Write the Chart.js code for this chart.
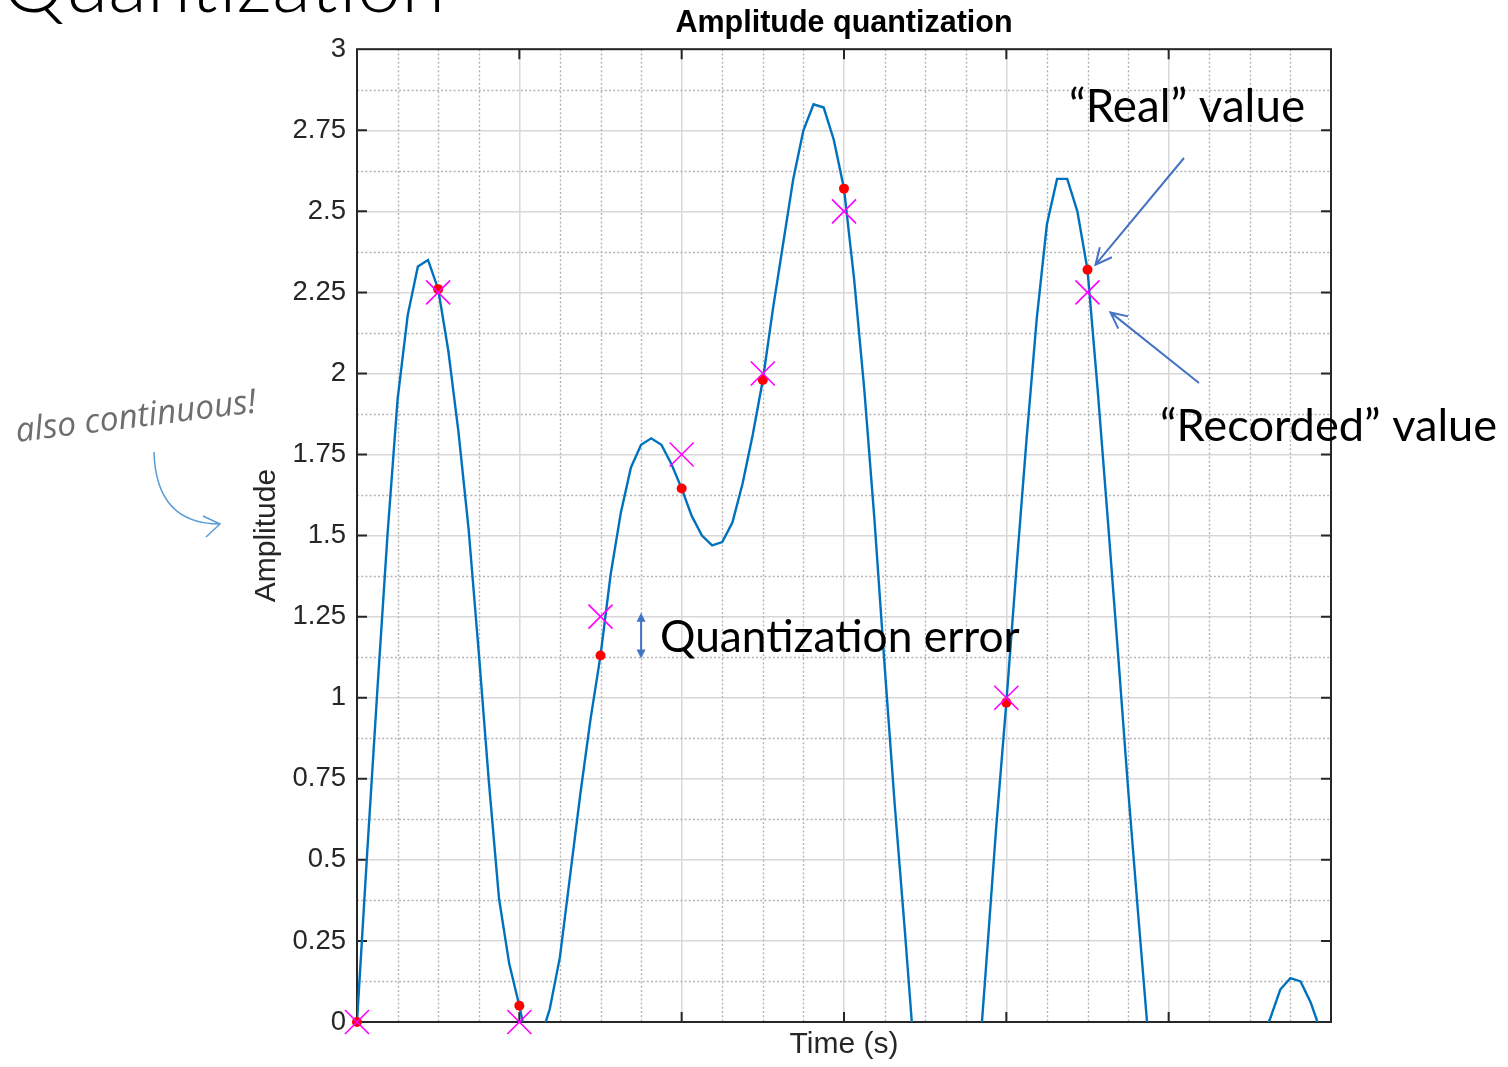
<!DOCTYPE html>
<html>
<head>
<meta charset="utf-8">
<script src="https://cdn.jsdelivr.net/npm/chart.js@4.4.1/dist/chart.umd.min.js"></script>
<style>
  html, body { margin: 0; padding: 0; background: #fff; }
  canvas { display: block; }
</style>
</head>
<body>
<canvas id="chart" width="1508" height="1067"></canvas>
<script>
// sample instants (one every half major division) and their values
const sampleTimes = [0, 1, 2, 3, 4, 5, 6, 7, 8, 9, 10, 11, 12];
const realValues = [0, 2.26, 0.05, 1.13, 1.645, 1.98, 2.57, -0.5, 0.985, 2.32, -0.7, -0.15, -0.2];
const recordedValues = [0, 2.25, 0, 1.25, 1.75, 2.0, 2.5, -0.5, 1.0, 2.25, -0.75, -0.25, -0.25];

// "continuous" signal, 8 points per sample period
const curveStep = 0.125;
const curveValues = [
  0, 0.52, 1.02, 1.5, 1.92, 2.18, 2.33, 2.35,
  2.26, 2.07, 1.82, 1.52, 1.14, 0.74, 0.38, 0.18,
  0.05, -0.1, -0.06, 0.04, 0.2, 0.45, 0.7, 0.93,
  1.13, 1.38, 1.57, 1.71, 1.78, 1.8, 1.78, 1.72,
  1.645, 1.56, 1.5, 1.47, 1.48, 1.54, 1.66, 1.81,
  1.98, 2.2, 2.4, 2.6, 2.75, 2.83, 2.82, 2.72,
  2.57, 2.29, 1.95, 1.55, 1.1, 0.67, 0.28, -0.13,
  -0.5, -0.7, -0.75, -0.65, -0.45, -0.25, 0.17, 0.6,
  0.985, 1.4, 1.8, 2.17, 2.46, 2.6, 2.6, 2.5,
  2.32, 1.95, 1.55, 1.14, 0.72, 0.33, -0.05, -0.4,
  -0.7, -0.9, -1.0, -1.0, -0.9, -0.7, -0.5, -0.3,
  -0.15, -0.05, 0.01, 0.1, 0.135, 0.125, 0.06, -0.03,
  -0.2,
];

const AXIS_FONT = "'Liberation Sans', Arial, sans-serif";
const SLIDE_FONT = "Lato, 'Open Sans', sans-serif";
const ARROW_BLUE = "#4472C4";

function fitFont(ctx, text, width, style, family) {
  ctx.font = `${style} 100px ${family}`;
  const size = (100 * width) / ctx.measureText(text).width;
  return `${style} ${size.toFixed(1)}px ${family}`;
}

function openArrow(ctx, x1, y1, x2, y2, head) {
  const a = Math.atan2(y2 - y1, x2 - x1);
  ctx.beginPath();
  ctx.moveTo(x1, y1);
  ctx.lineTo(x2, y2);
  ctx.moveTo(x2 - head * Math.cos(a - 0.45), y2 - head * Math.sin(a - 0.45));
  ctx.lineTo(x2, y2);
  ctx.lineTo(x2 - head * Math.cos(a + 0.45), y2 - head * Math.sin(a + 0.45));
  ctx.stroke();
}

function filledHead(ctx, x, y, dir) {
  // dir = -1 up, 1 down
  ctx.beginPath();
  ctx.moveTo(x, y);
  ctx.lineTo(x - 4.5, y - dir * 9);
  ctx.lineTo(x + 4.5, y - dir * 9);
  ctx.closePath();
  ctx.fill();
}

// MATLAB-ish box, minor grid and the slide annotations
const matlabAxes = {
  id: "matlabAxes",
  beforeDatasetsDraw(chart) {
    const { ctx, chartArea: a, scales: { x, y } } = chart;
    ctx.save();

    // minor dotted grid
    ctx.strokeStyle = "#b4b4b4";
    ctx.lineWidth = 1.4;
    ctx.setLineDash([2, 2.2]);
    ctx.beginPath();
    for (let t = 0.5; t < 12; t += 0.5) {
      if (t % 2 === 0) continue;
      const px = Math.round(x.getPixelForValue(t)) + 0.5;
      ctx.moveTo(px, a.top);
      ctx.lineTo(px, a.bottom);
    }
    for (let v = 0.125; v < 3; v += 0.25) {
      const py = Math.round(y.getPixelForValue(v)) + 0.5;
      ctx.moveTo(a.left, py);
      ctx.lineTo(a.right, py);
    }
    ctx.stroke();
    ctx.setLineDash([]);

    // box + inward ticks
    ctx.strokeStyle = "#262626";
    ctx.lineWidth = 2;
    ctx.strokeRect(a.left, a.top, a.right - a.left, a.bottom - a.top);
    ctx.beginPath();
    for (let v = 0.25; v < 3; v += 0.25) {
      const py = y.getPixelForValue(v);
      ctx.moveTo(a.left, py);
      ctx.lineTo(a.left + 10, py);
      ctx.moveTo(a.right, py);
      ctx.lineTo(a.right - 10, py);
    }
    for (let t = 2; t < 12; t += 2) {
      const px = x.getPixelForValue(t);
      ctx.moveTo(px, a.bottom);
      ctx.lineTo(px, a.bottom - 10);
      ctx.moveTo(px, a.top);
      ctx.lineTo(px, a.top + 10);
    }
    ctx.stroke();
    ctx.restore();
  },
  afterDraw(chart) {
    const { ctx, scales: { x, y } } = chart;
    ctx.save();
    ctx.fillStyle = "#000";
    ctx.textBaseline = "alphabetic";
    ctx.textAlign = "left";

    // slide title, cut by the top of the picture
    ctx.font = fitFont(ctx, "Quantization", 443, "300", SLIDE_FONT);
    ctx.fillText("Quantization", 2, 12);

    // "also continuous!" note with curved arrow
    ctx.save();
    ctx.translate(17, 442);
    ctx.rotate(-0.124);
    ctx.fillStyle = "#6e6e6e";
    ctx.font = fitFont(ctx, "also continuous!", 242, "italic", "'Open Sans', sans-serif");
    ctx.fillText("also continuous!", 0, 0);
    ctx.restore();

    ctx.strokeStyle = "#5B9BD5";
    ctx.lineWidth = 1.5;
    ctx.beginPath();
    ctx.moveTo(154, 452);
    ctx.quadraticCurveTo(156, 524, 220, 524);
    ctx.stroke();
    ctx.beginPath();
    ctx.moveTo(203, 516);
    ctx.lineTo(220, 524);
    ctx.lineTo(206, 537);
    ctx.stroke();

    // quantization error marker between sample 3 real/recorded values
    const ex = x.getPixelForValue(3.5);
    const eTop = y.getPixelForValue(recordedValues[3]) - 4;
    const eBot = y.getPixelForValue(realValues[3]) + 3;
    ctx.strokeStyle = ARROW_BLUE;
    ctx.fillStyle = ARROW_BLUE;
    ctx.lineWidth = 2;
    ctx.beginPath();
    ctx.moveTo(ex, eTop + 6);
    ctx.lineTo(ex, eBot - 6);
    ctx.stroke();
    filledHead(ctx, ex, eTop, -1);
    filledHead(ctx, ex, eBot, 1);

    ctx.fillStyle = "#000";
    ctx.font = fitFont(ctx, "Quantization error", 360, "normal", SLIDE_FONT);
    ctx.fillText("Quantization error", 660, 652);

    ctx.font = fitFont(ctx, "\u201CReal\u201D value", 236, "normal", SLIDE_FONT);
    ctx.fillText("\u201CReal\u201D value", 1069, 122);

    ctx.font = fitFont(ctx, "\u201CRecorded\u201D value", 337, "normal", SLIDE_FONT);
    ctx.fillText("\u201CRecorded\u201D value", 1160, 441);

    // arrows to sample 9
    const sx = x.getPixelForValue(sampleTimes[9]);
    const ry = y.getPixelForValue(realValues[9]);
    const qy = y.getPixelForValue(recordedValues[9]);
    ctx.strokeStyle = ARROW_BLUE;
    ctx.lineWidth = 2;
    openArrow(ctx, 1184, 158, sx + 8, ry - 5, 18);
    openArrow(ctx, 1199, 383, sx + 23, qy + 20, 18);

    ctx.restore();
  },
};

const gridStyle = { color: "#d8d8d8", lineWidth: 1.5, drawTicks: false };

new Chart(document.getElementById("chart"), {
  type: "line",
  data: {
    datasets: [
      {
        label: "Recorded",
        data: sampleTimes.map((t, i) => ({ x: t, y: recordedValues[i] })),
        showLine: false,
        pointStyle: "crossRot",
        pointRadius: 17,
        pointBorderColor: "#ff00ff",
        pointBorderWidth: 1.6,
        clip: 20,
        order: 1,
      },
      {
        label: "Real",
        data: sampleTimes.map((t, i) => ({ x: t, y: realValues[i] })),
        showLine: false,
        pointStyle: "circle",
        pointRadius: 5,
        pointBackgroundColor: "#ff0000",
        pointBorderColor: "#ff0000",
        pointBorderWidth: 0,
        clip: 20,
        order: 2,
      },
      {
        label: "Signal",
        data: curveValues.map((v, i) => ({ x: i * curveStep, y: v })),
        borderColor: "#0072BD",
        borderWidth: 2.4,
        pointRadius: 0,
        tension: 0,
        order: 3,
      },
    ],
  },
  options: {
    responsive: false,
    animation: false,
    layout: { padding: { left: 249, right: 177, top: 0, bottom: 0 } },
    plugins: {
      legend: { display: false },
      tooltip: { enabled: false },
      title: {
        display: true,
        fullSize: false,
        text: "Amplitude quantization",
        color: "#000",
        font: { family: AXIS_FONT, size: 30.5, weight: "bold" },
        padding: { top: 5, bottom: 7.6 },
      },
    },
    scales: {
      x: {
        type: "linear",
        min: 0,
        max: 12,
        ticks: { stepSize: 2, display: false },
        grid: gridStyle,
        border: { display: false },
        title: {
          display: true,
          text: "Time (s)",
          color: "#262626",
          font: { family: AXIS_FONT, size: 30 },
          padding: { top: 0, bottom: 4 },
        },
        afterFit: (s) => { s.height = 45; },
      },
      y: {
        min: 0,
        max: 3,
        ticks: {
          stepSize: 0.25,
          padding: 11,
          color: "#262626",
          font: { family: AXIS_FONT, size: 27.5 },
          callback: (v) => String(+v.toFixed(2)),
        },
        grid: gridStyle,
        border: { display: false },
        title: {
          display: true,
          text: "Amplitude",
          color: "#262626",
          font: { family: AXIS_FONT, size: 30 },
          padding: 0,
        },
        afterFit: (s) => { s.width = 108; },
      },
    },
  },
  plugins: [matlabAxes],
});
</script>
</body>
</html>
